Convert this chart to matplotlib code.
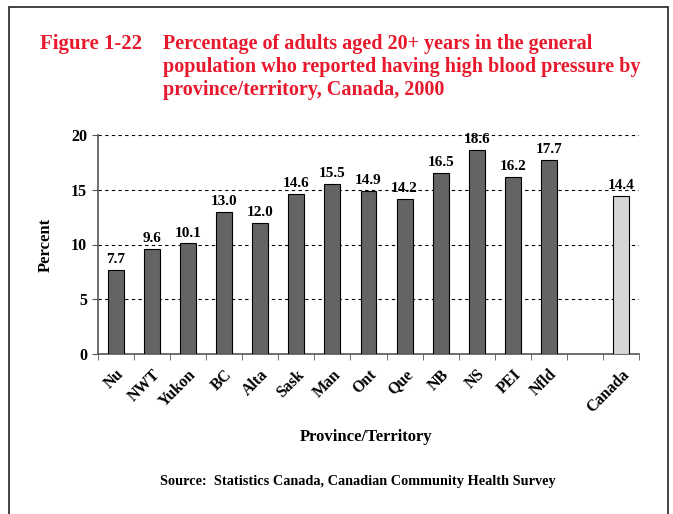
import numpy as np
import matplotlib.pyplot as plt
from matplotlib.patches import Rectangle

regions = ["Nu", "NWT", "Yukon", "BC", "Alta", "Sask", "Man", "Ont",
           "Que", "NB", "NS", "PEI", "Nfld", "", "Canada"]
percent = [7.7, 9.6, 10.1, 13.0, 12.0, 14.6, 15.5, 14.9,
           14.2, 16.5, 18.6, 16.2, 17.7, None, 14.4]

plt.rcParams['font.family'] = ['Liberation Serif', 'DejaVu Serif']
plt.rcParams['font.weight'] = 'bold'

red = '#e8192c'
fig = plt.figure(figsize=(6.73, 5.14), dpi=100)

# outer frame
fig.patches.append(Rectangle((9 / 673, -0.05), 659 / 673, 1 - 7 / 514 + 0.05,
                             transform=fig.transFigure, fill=False,
                             edgecolor='#222222', linewidth=1.2))

fig.text(40 / 673, 1 - 34 / 514, "Figure 1-22", color=red, fontsize=15,
         fontweight='bold', va='top')
fig.text(163 / 673, 1 - 34 / 514,
         "Percentage of adults aged 20+ years in the general\n"
         "population who reported having high blood pressure by\n"
         "province/territory, Canada, 2000",
         color=red, fontsize=14.5, fontweight='bold', va='top',
         linespacing=1.2)

ax = fig.add_axes([98 / 673, 1 - 354 / 514, 541 / 673, 219 / 514])

x = np.arange(len(regions))
for i, v in enumerate(percent):
    if v is None:
        continue
    col = '#d6d6d6' if regions[i] == "Canada" else '#646464'
    ax.bar(x[i], v, width=0.44, color=col, edgecolor='black', linewidth=0.8,
           zorder=3)
    ax.text(x[i], v + 0.35, f"{v:.1f}", ha='center', va='bottom',
            fontsize=11, fontweight='bold', zorder=4)

ax.set_xlim(-0.5, len(regions) - 0.5)
ax.set_ylim(0, 20)
ax.set_yticks([0, 5, 10, 15, 20])
ax.set_yticklabels(["0", "5", "10", "15", "20"], fontsize=11.5,
                   fontweight='bold')
for yv in [5, 10, 15, 20]:
    ax.axhline(yv, color='black', linewidth=0.8, linestyle=(0, (3, 3)),
               zorder=1)

ax.set_xticks(x)
ax.set_xticklabels(regions, rotation=45, ha='right', rotation_mode='anchor',
                   fontsize=11.5, fontweight='bold')
ax.tick_params(axis='x', length=0, pad=9)
ax.set_xticks(np.arange(-0.5, len(regions)), minor=True)
ax.tick_params(axis='x', which='minor', length=4, direction='out',
               color='#555555')
ax.tick_params(axis='y', length=4, direction='out', color='#555555', pad=4)

for s in ['top', 'right']:
    ax.spines[s].set_visible(False)
for s in ['left', 'bottom']:
    ax.spines[s].set_color('#555555')
    ax.spines[s].set_linewidth(1.2)

fig.text(46 / 673, 1 - 245 / 514, "Percent", rotation=90, ha='center',
         va='center', fontsize=12, fontweight='bold')
fig.text(366 / 673, 1 - 437 / 514, "Province/Territory", ha='center',
         va='center', fontsize=12, fontweight='bold')
fig.text(358 / 673, 1 - 482 / 514,
         "Source:  Statistics Canada, Canadian Community Health Survey",
         ha='center', va='center', fontsize=10.3, fontweight='bold')

fig.savefig("out.png", dpi=100)
